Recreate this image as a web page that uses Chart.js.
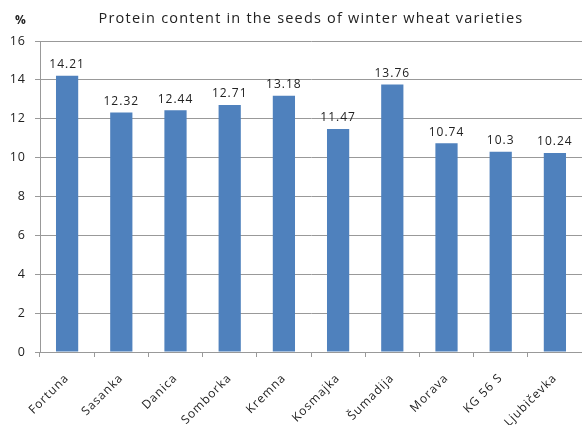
<!DOCTYPE html>
<html>
<head>
<meta charset="utf-8">
<script src="https://cdn.jsdelivr.net/npm/chart.js@4"></script>
<style>
  html, body { margin: 0; padding: 0; background: #fff; }
  #wrap { width: 582px; height: 425px; }
</style>
</head>
<body>
<div id="wrap"><canvas id="grafico"></canvas></div>
<script>
// datos del gráfico
const variedades = ["Fortuna", "Sasanka", "Danica", "Somborka", "Kremna", "Kosmajka", "Šumadija", "Morava", "KG 56 S", "Ljubičevka"];
const proteina = [14.21, 12.32, 12.44, 12.71, 13.18, 11.47, 13.76, 10.74, 10.3, 10.24];
const titulo = "Protein content in the seeds of winter wheat varieties";
const unidad = "%";

const fuente = "'Open Sans', sans-serif";

/* letras un poco más separadas, como en el original */
const espaciado = {
  id: "espaciado",
  beforeDraw(chart) {
    chart.ctx.letterSpacing = "1px";
  },
};

/* título, "%" y etiquetas de valor encima de las barras */
const etiquetas = {
  id: "etiquetas",
  afterDatasetsDraw(chart) {
    const ctx = chart.ctx;
    const meta = chart.getDatasetMeta(0);
    const area = chart.chartArea;
    ctx.save();
    ctx.font = "12px " + fuente;
    ctx.fillStyle = "#222";
    ctx.textAlign = "center";
    ctx.textBaseline = "bottom";
    meta.data.forEach((bar, i) => {
      ctx.fillText(String(proteina[i]), bar.x, bar.y - 5);
    });
    ctx.textBaseline = "middle";
    ctx.font = "bold 12px " + fuente;
    ctx.fillText(unidad, 21, 21);
    // título centrado sobre el área del gráfico
    ctx.font = "14.5px " + fuente;
    ctx.letterSpacing = "1.2px";
    ctx.fillText(titulo, (area.left + area.right) / 2, 19);
    ctx.restore();
  },
};

new Chart(document.getElementById("grafico"), {
  type: "bar",
  data: {
    labels: variedades,
    datasets: [
      {
        data: proteina,
        backgroundColor: "#4f81bd",
        categoryPercentage: 1,
        barPercentage: 0.41,
      },
    ],
  },
  plugins: [espaciado, etiquetas],
  options: {
    responsive: true,
    maintainAspectRatio: false,
    animation: false,
    layout: { padding: { top: 41, right: 0, left: 0, bottom: 0 } },
    plugins: {
      legend: { display: false },
      tooltip: { enabled: false },
      title: { display: false },
    },
    scales: {
      x: {
        grid: {
          display: true,
          drawOnChartArea: false,
          color: "#999",
          tickLength: 5,
          offset: true,
        },
        border: { color: "#999" },
        ticks: {
          color: "#222",
          font: { family: fuente, size: 12 },
          maxRotation: 45,
          minRotation: 45,
          padding: 14,
        },
        afterFit: (s) => { s.height = 73; },
      },
      y: {
        min: 0,
        max: 16,
        ticks: {
          stepSize: 2,
          color: "#222",
          font: { family: fuente, size: 12.5 },
          padding: 9,
        },
        grid: { color: "#999", tickLength: 5 },
        border: { color: "#999" },
        afterFit: (s) => { s.width = 40; },
      },
    },
  },
});
</script>
</body>
</html>
